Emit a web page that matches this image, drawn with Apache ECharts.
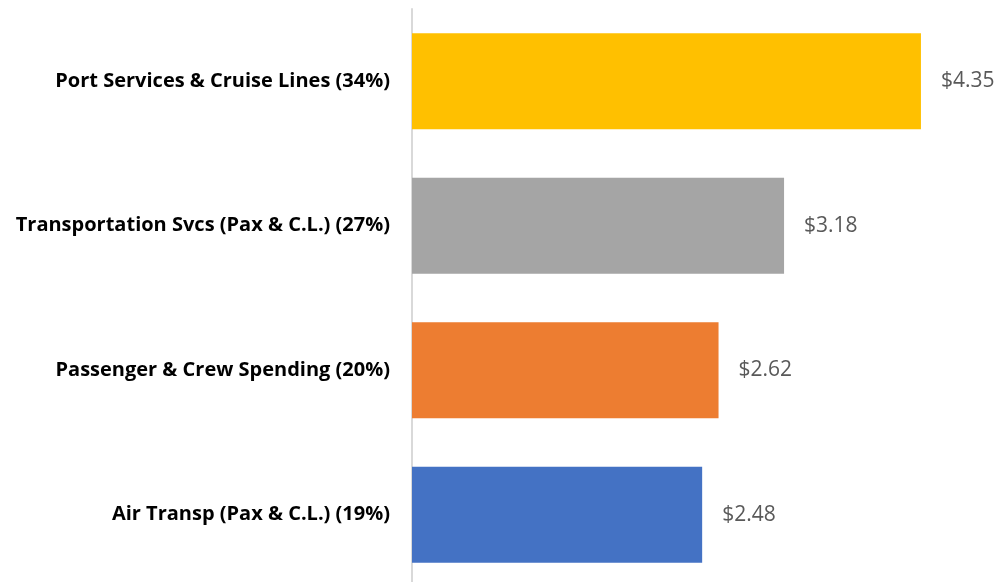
<!DOCTYPE html>
<html><head><meta charset="utf-8">
<script src="https://cdn.jsdelivr.net/npm/echarts@6/dist/echarts.min.js"></script>
<style>html,body{margin:0;padding:0;background:#fff}#c{width:1000px;height:582px}</style>
</head><body><div id="c"></div>
<script>
const categories = ["Air Transp (Pax & C.L.) (19%)", "Passenger & Crew Spending (20%)", "Transportation Svcs (Pax & C.L.) (27%)", "Port Services & Cruise Lines (34%)"];
const values = [2.48, 2.62, 3.18, 4.35];
const colors = ["#4472C4", "#ED7D31", "#A5A5A5", "#FFC000"];
const chart = echarts.init(document.getElementById('c'));
chart.setOption({
  animation: false,
  grid: { left: 412, top: 9, width: 585, height: 578, containLabel: false, outerBoundsMode: 'none' },
  xAxis: { type: 'value', min: 0, max: 5, show: false, splitLine: { show: false } },
  yAxis: {
    type: 'category', data: categories,
    axisLine: { show: true, lineStyle: { color: '#D9D9D9', width: 2 } },
    axisTick: { show: false },
    axisLabel: { margin: 22, color: '#000', fontWeight: 'bold', fontSize: 20, fontFamily: 'Open Sans', padding: [4, 0, 0, 0] }
  },
  series: [{
    type: 'bar', barCategoryGap: '33.6%',
    data: values.map((v, i) => ({ value: v, itemStyle: { color: colors[i] } })),
    label: { show: true, position: 'right', distance: 20, color: '#595959', fontSize: 21, fontFamily: 'Open Sans', padding: [4, 0, 0, 0],
      formatter: p => '$' + p.value.toFixed(2) }
  }]
});
</script></body></html>
